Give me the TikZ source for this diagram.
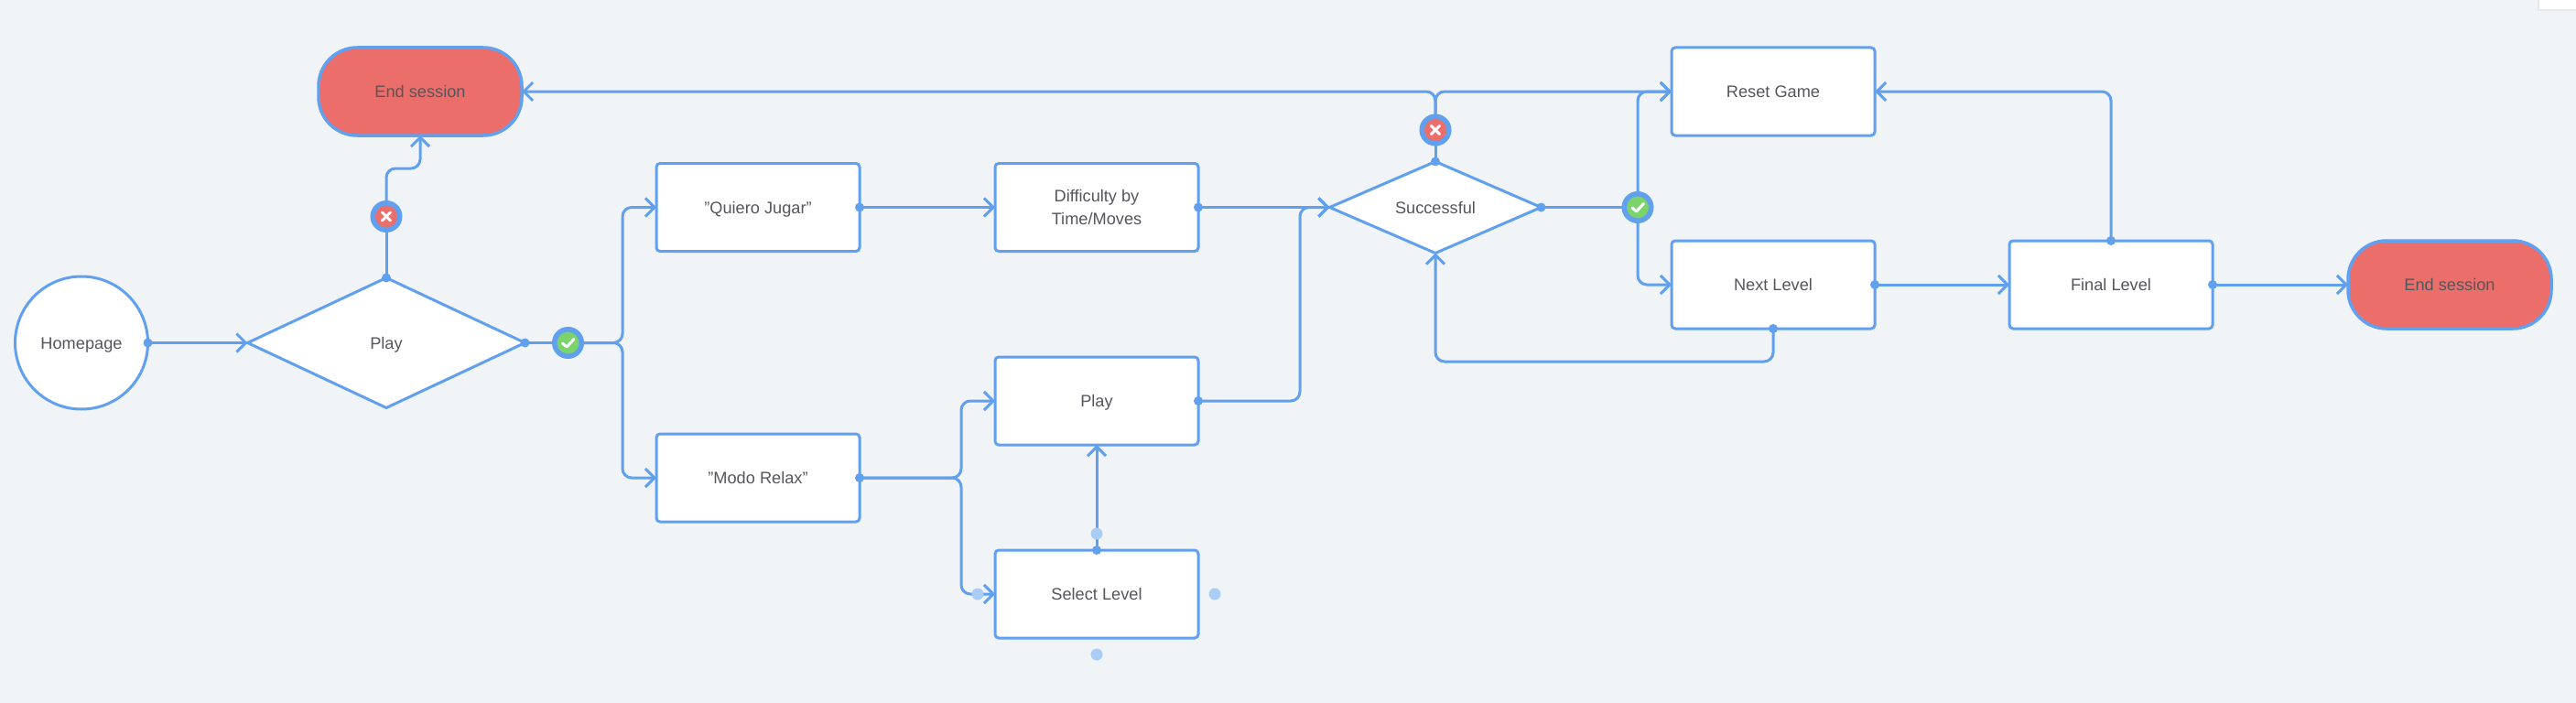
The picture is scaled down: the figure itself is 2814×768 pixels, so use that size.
\documentclass[tikz,border=0pt]{standalone}
\usepackage{fontspec}
\setmainfont{Liberation Sans}
\usetikzlibrary{shapes.geometric,arrows.meta}
\definecolor{bgc}{HTML}{F0F4F7}
\definecolor{linec}{HTML}{619FEF}
\definecolor{lightc}{HTML}{A9CDF5}
\definecolor{redc}{HTML}{EC6E6A}
\definecolor{greenc}{HTML}{7AD36B}
\definecolor{textc}{HTML}{55565C}
\definecolor{edgec}{HTML}{E2E8EC}
\tikzset{
  base/.style={draw=linec,line width=3pt,fill=white,outer sep=0pt,inner sep=0pt,align=center,text=textc,font=\fontsize{18.2}{25}\selectfont,text height=13pt,text depth=0pt},
  taskbox/.style={base,rectangle,rounded corners=4pt,minimum width=222pt,minimum height=96pt},
  endbox/.style={base,rectangle,rounded corners=42pt,fill=redc,line width=3.5pt,minimum width=222pt,minimum height=96pt},
  choice/.style={base,diamond},
  startcircle/.style={base,circle,minimum size=145pt},
  badge/.style={circle,draw=linec,line width=5.5pt,minimum size=29.5pt,inner sep=0pt,outer sep=2.5pt},
  nobadge/.style={badge,fill=redc},
  yesbadge/.style={badge,fill=greenc},
  conn/.style={draw=linec,line width=3pt,rounded corners=10pt},
  arrowconn/.style={conn,-{Straight Barb[length=10pt,width=20pt]}},
  startdot/.style={circle,fill=linec,minimum size=10pt,inner sep=0pt},
  ghostdot/.style={circle,fill=lightc,minimum size=13pt,inner sep=0pt},
  signline/.style={draw=white,line width=3pt,line cap=round,line join=round}
}
\begin{document}
\begin{tikzpicture}[x=1pt,y=-1pt]
\fill[bgc] (0,0) rectangle (2814,768);
\useasboundingbox (0,0) rectangle (2814,768);
\filldraw[fill=white,draw=edgec,line width=2pt] (2773,-3) rectangle (2817,11);
% shapes
\node[startcircle] (home) at (89,374.5) {Homepage};
\node[choice,aspect=2.13,minimum width=303pt,minimum height=142pt] (playq) at (422,374.5) {Play};
\node[endbox] (end1) at (459,100) {End session};
\node[taskbox] (quiero) at (828,226.5) {"Quiero Jugar"};
\node[taskbox] (modo) at (828,522) {"Modo Relax"};
\node[taskbox,text height=,text depth=] (diff) at (1198,226.5) {Difficulty by\\Time/Moves};
\node[taskbox] (play) at (1198,438) {Play};
\node[taskbox] (select) at (1198,649) {Select Level};
\node[choice,aspect=2.31,minimum width=231pt,minimum height=100pt] (succ) at (1568,226.5) {Successful};
\node[taskbox] (reset) at (1937,100) {Reset Game};
\node[taskbox] (next) at (1937,311) {Next Level};
\node[taskbox] (final) at (2306,311) {Final Level};
\node[endbox] (end2) at (2676,311) {End session};
% badges
\node[nobadge] (no1) at (422,236.5) {};
\node[yesbadge] (yes1) at (620.5,374.5) {};
\node[nobadge] (no2) at (1568,142) {};
\node[yesbadge] (yes2) at (1789,226.5) {};
\foreach \b in {no1,no2}{
  \draw[signline] ([shift={(-4.5,-4.5)}]\b.center) -- ([shift={(4.5,4.5)}]\b.center);
  \draw[signline] ([shift={(-4.5,4.5)}]\b.center) -- ([shift={(4.5,-4.5)}]\b.center);
}
\foreach \b in {yes1,yes2}{
  \draw[signline] ([shift={(-6,0.5)}]\b.center) -- ([shift={(-1.5,4.5)}]\b.center) -- ([shift={(6.5,-4)}]\b.center);
}
% waypoints
\coordinate (upa) at (422,184);
\coordinate (upb) at (459,184);
\coordinate (forka) at (680,374.5);
\coordinate (forkb) at (1050,522);
\coordinate (risex) at (1420,438);
\coordinate (loopa) at (1937,395);
\coordinate (loopb) at (1568,395);
% connectors
\draw[arrowconn] (home.east) -- (playq.west);
\draw[conn] (playq.east) -- (yes1.west);
\draw[conn] (playq.north) -- (no1.south);
\draw[arrowconn] (no1.north) -- (upa) -- (upb) -- (end1.south);
\draw[arrowconn] (yes1.east) -- (forka) |- (quiero.west);
\draw[arrowconn] (yes1.east) -- (forka) |- (modo.west);
\draw[arrowconn] (quiero.east) -- (diff.west);
\draw[arrowconn] (diff.east) -- (succ.west);
\draw[arrowconn] (modo.east) -- (forkb) |- (play.west);
\draw[arrowconn] (modo.east) -- (forkb) |- (select.west);
\draw[arrowconn] (select.north) -- (play.south);
\draw[arrowconn] (play.east) -- (risex) |- (succ.west);
\draw[conn] (succ.north) -- (no2.south);
\draw[arrowconn] (no2.north) |- (end1.east);
\draw[arrowconn] (no2.north) |- (reset.west);
\draw[conn] (succ.east) -- (yes2.west);
\draw[arrowconn] (yes2.north) |- (reset.west);
\draw[arrowconn] (yes2.south) |- (next.west);
\draw[arrowconn] (next.south) -- (loopa) -- (loopb) -- (succ.south);
\draw[arrowconn] (next.east) -- (final.west);
\draw[arrowconn] (final.north) |- (reset.east);
\draw[arrowconn] (final.east) -- (end2.west);
% start dots
\foreach \a [count=\i] in {home.east,playq.north,playq.east,quiero.east,diff.east,modo.east,play.east,select.north,succ.north,succ.east,next.south,next.east,final.north,final.east}{
  \node[startdot] (sd\i) at (\a) {};
}
% faint handles
\node[ghostdot] (g1) at (1198,583) {};
\node[ghostdot] (g2) at (1068,649) {};
\node[ghostdot] (g3) at (1327,649) {};
\node[ghostdot] (g4) at (1198,715) {};
\end{tikzpicture}
\end{document}
